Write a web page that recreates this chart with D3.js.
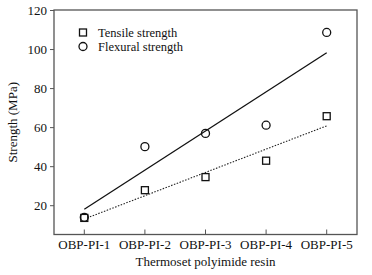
<!DOCTYPE html>
<html>
<head>
<meta charset="utf-8">
<script src="https://cdn.jsdelivr.net/npm/d3@7"></script>
<style>
html,body{margin:0;padding:0;background:#fff;}
svg text{font-family:"Liberation Serif","Times New Roman",serif;fill:#111;}
</style>
</head>
<body>
<svg id="c" width="372" height="275"></svg>
<script>
const categories = ["OBP-PI-1","OBP-PI-2","OBP-PI-3","OBP-PI-4","OBP-PI-5"];
const tensile = [13.5, 27.7, 34.4, 42.8, 65.6];
const flexural = [13.8, 50.0, 56.8, 61.0, 108.5];
const yTicks = [20, 40, 60, 80, 100, 120];
const seriesNames = ["Tensile strength", "Flexural strength"];

const W = 372, H = 275;
const m = {left: 54, right: 15, top: 10, bottom: 40.5};
const FS = 13;
const svg = d3.select("#c");

const x = d3.scaleBand().domain(categories).range([m.left, W - m.right]).padding(0);
const cx = d => x(d) + x.bandwidth() / 2;
const y = d3.scaleLinear().domain([5, 120]).range([H - m.bottom, m.top]);

// frame
svg.append("rect").attr("x", m.left).attr("y", m.top)
  .attr("width", W - m.left - m.right).attr("height", H - m.top - m.bottom)
  .attr("fill", "none").attr("stroke", "#555").attr("stroke-width", 1.3);

// y axis (ticks outside)
const yAxis = svg.append("g").attr("transform", `translate(${m.left},0)`)
  .call(d3.axisLeft(y).tickValues(yTicks).tickSize(4).tickPadding(3));
yAxis.select(".domain").remove();
yAxis.selectAll("line").attr("stroke", "#555");
yAxis.selectAll("text").attr("font-size", FS).attr("font-family", "Liberation Serif, serif").attr("fill", "#111");

// x axis (ticks inside)
const xAxis = svg.append("g").attr("transform", `translate(0,${H - m.bottom})`)
  .call(d3.axisBottom(x).tickSize(-5).tickPadding(5));
xAxis.select(".domain").remove();
xAxis.selectAll("line").attr("stroke", "#555");
xAxis.selectAll("text").attr("font-size", FS).attr("font-family", "Liberation Serif, serif").attr("fill", "#111");

// axis titles
svg.append("text").attr("x", (m.left + W - m.right) / 2).attr("y", 266)
  .attr("text-anchor", "middle").attr("font-size", FS).text("Thermoset polyimide resin");
svg.append("text").attr("transform", `translate(17,${(m.top + H - m.bottom) / 2}) rotate(-90)`)
  .attr("text-anchor", "middle").attr("font-size", FS).text("Strength (MPa)");

// linear fits
function fit(vals) {
  const xs = vals.map((_, i) => i);
  const mx = d3.mean(xs), my = d3.mean(vals);
  const b = d3.sum(xs, (xi, i) => (xi - mx) * (vals[i] - my)) / d3.sum(xs, xi => (xi - mx) ** 2);
  const a = my - b * mx;
  return xs.map(xi => a + b * xi);
}
const ft = fit(tensile), ff = fit(flexural);
const lineEnds = d3.line().x(d => cx(d[0])).y(d => y(d[1]));
svg.append("path").attr("d", lineEnds([[categories[0], ff[0]], [categories[4], ff[4]]]))
  .attr("stroke", "#111").attr("stroke-width", 1.3).attr("fill", "none");
svg.append("path").attr("d", lineEnds([[categories[0], ft[0]], [categories[4], ft[4]]]))
  .attr("stroke", "#222").attr("stroke-width", 1.1).attr("stroke-dasharray", "1.5,1.5").attr("fill", "none");

// markers
const s = 7;
svg.append("g").selectAll("rect").data(tensile).join("rect")
  .attr("x", (d, i) => cx(categories[i]) - s / 2).attr("y", d => y(d) - s / 2)
  .attr("width", s).attr("height", s)
  .attr("fill", "#fff").attr("stroke", "#111").attr("stroke-width", 1.3);
svg.append("g").selectAll("circle").data(flexural).join("circle")
  .attr("cx", (d, i) => cx(categories[i])).attr("cy", d => y(d)).attr("r", 4)
  .attr("fill", "none").attr("stroke", "#111").attr("stroke-width", 1.3);

// legend
const lg = svg.append("g");
lg.append("rect").attr("x", 79.5).attr("y", 29).attr("width", s).attr("height", s)
  .attr("fill", "#fff").attr("stroke", "#111").attr("stroke-width", 1.3);
lg.append("circle").attr("cx", 83).attr("cy", 46.5).attr("r", 4)
  .attr("fill", "none").attr("stroke", "#111").attr("stroke-width", 1.3);
lg.append("text").attr("x", 98).attr("y", 36.5).attr("font-size", 12.5).text(seriesNames[0]);
lg.append("text").attr("x", 98).attr("y", 50.8).attr("font-size", 12.5).text(seriesNames[1]);
</script>
</body>
</html>
